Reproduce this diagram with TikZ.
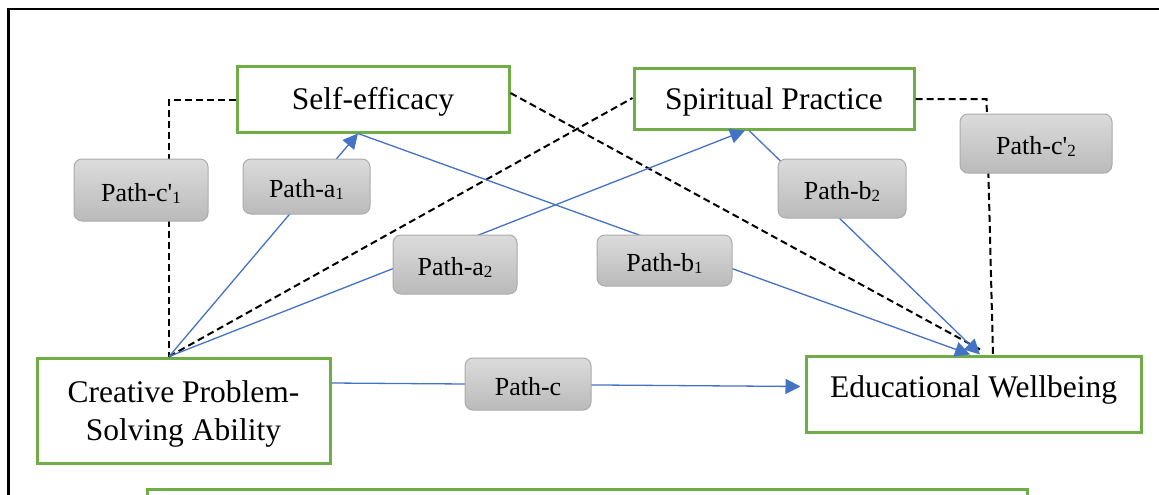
\documentclass[tikz,border=0pt]{standalone}
\usepackage{fontspec}
\setmainfont{Liberation Serif}
\usetikzlibrary{arrows.meta}
\definecolor{boxgreen}{HTML}{70AD47}
\definecolor{lineblue}{HTML}{4472C4}
\newcommand\lowidx[1]{\raisebox{-2pt}{\fontsize{17}{17}\selectfont #1}}

\tikzset{
  varbox/.style={draw=boxgreen, line width=3pt, fill=white, align=center,
    inner sep=0pt, font=\fontsize{31.5}{38}\selectfont},
  pathbox/.style={draw=black!33, line width=1pt, rounded corners=8pt,
    top color=black!14, bottom color=black!27, inner sep=0pt,
    text height=22pt, text depth=0pt, font=\fontsize{26}{30}\selectfont},
  effect/.style={draw=lineblue, line width=1.3pt, -{Triangle[length=15pt,width=15pt]}},
  direct/.style={draw=black, line width=2pt, dash pattern=on 7pt off 4pt},
}

\begin{document}
\begin{tikzpicture}[x=1pt,y=-1pt]
\useasboundingbox (0,0) rectangle (1159,495);
\clip (0,0) rectangle (1159,495);

% frame and caption box
\draw[line width=2.5pt] (8.5,500) -- (8.5,9) -- (1170,9);
\draw[boxgreen, line width=3pt] (147,520) -- (147,489) -- (1027,489) -- (1027,520);

% variables
\node[varbox, minimum width=272pt, minimum height=65pt, text height=23pt, text depth=2pt] (se) at (373,99.5) {Self-efficacy};
\node[varbox, minimum width=280pt, minimum height=60pt, text height=23pt, text depth=1pt] (sp) at (774,99) {Spiritual Practice};
\node[varbox, minimum width=293pt, minimum height=105pt, text height=60pt, text depth=1pt] (cpsa) at (183.5,410.5) {Creative Problem-\\Solving Ability};
\node[varbox, minimum width=335pt, minimum height=76pt, text height=23pt, text depth=17pt] (ew) at (973.5,394) {Educational Wellbeing};

\coordinate (cpsaTop) at ([xshift=-14.5pt]cpsa.north);
\coordinate (seFoot) at ([xshift=-15pt]se.south);
\coordinate (spFoot) at ([xshift=-25pt]sp.south);

% direct paths
\draw[direct] (se.west) -| (cpsaTop);
\draw[direct] (cpsaTop) -- ([yshift=1pt]sp.west);
\draw[direct] ([yshift=6.5pt]se.east) -- ([xshift=8.5pt,yshift=4pt]ew.north);
\draw[direct] (sp.east) -- ++(71,0) -- ([xshift=19.5pt]ew.north);

% mediated paths
\draw[effect] (cpsaTop) -- (seFoot);
\draw[effect] (cpsaTop) -- ([xshift=-4pt]spFoot);
\draw[effect] (seFoot) -- ([xshift=-3.5pt]ew.north);
\draw[effect] (spFoot) -- ([xshift=6.5pt]ew.north);
\draw[effect] ([yshift=27.5pt]cpsa.east) -- ([xshift=-4pt,yshift=7.5pt]ew.west);

% path labels
\node[pathbox, minimum width=134pt, minimum height=62pt] (pc1) at (141,190) {Path-c\textquotesingle\lowidx{1}};
\node[pathbox, minimum width=127pt, minimum height=55pt] (pa1) at (306.5,186.5) {Path-a\lowidx{1}};
\node[pathbox, minimum width=124pt, minimum height=59pt] (pa2) at (455,264.5) {Path-a\lowidx{2}};
\node[pathbox, minimum width=135pt, minimum height=51pt] (pb1) at (664.5,260.5) {Path-b\lowidx{1}};
\node[pathbox, minimum width=128pt, minimum height=59pt] (pb2) at (842,188.5) {Path-b\lowidx{2}};
\node[pathbox, minimum width=152pt, minimum height=59pt] (pc2) at (1036,143.5) {Path-c\textquotesingle\lowidx{2}};
\node[pathbox, minimum width=126pt, minimum height=52pt] (pc) at (528,384) {Path-c};

\end{tikzpicture}
\end{document}
